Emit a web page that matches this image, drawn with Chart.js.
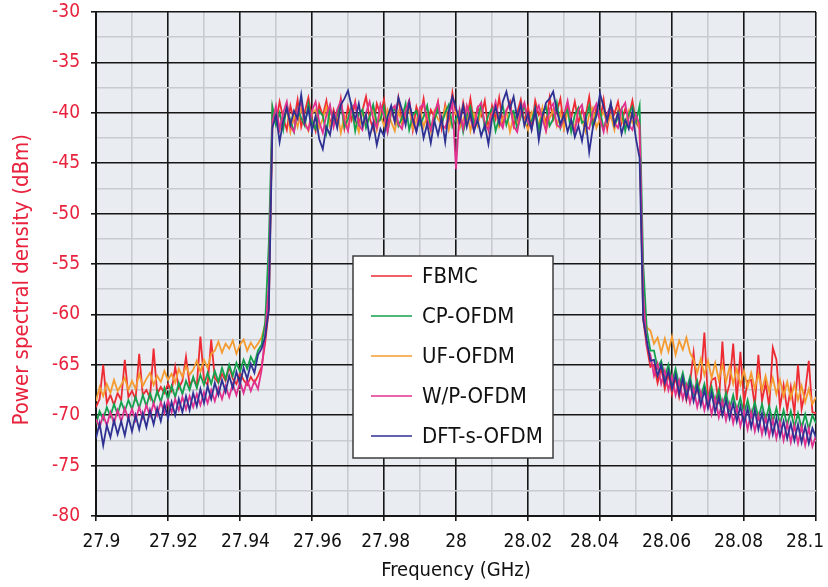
<!DOCTYPE html>
<html>
<head>
<meta charset="utf-8">
<script src="https://cdn.jsdelivr.net/npm/chart.js@4/dist/chart.umd.min.js"></script>
<style>
  html, body { margin: 0; padding: 0; background: #fff; }
  canvas { display: block; }
</style>
</head>
<body>
<canvas id="psd" width="828" height="587"></canvas>
<script>
// frequency grid (GHz), one sample per MHz
const freq = Array.from({ length: 201 }, (_, i) => +(27.9 + i * 0.001).toFixed(3));

const seriesNames = ['FBMC', 'CP-OFDM', 'UF-OFDM', 'W/P-OFDM', 'DFT-s-OFDM'];

// dBm values, index 0..48 lower skirt, 49..151 in-band, 152..200 upper skirt
const fbmc = [
  -69.2, -68.4, -65.0, -68.8, -68.0, -69.0, -67.8, -68.5, -64.5, -68.2,
  -67.6, -68.4, -63.9, -68.0, -67.5, -68.3, -63.4, -67.9, -67.2, -67.8,
  -66.9, -67.6, -65.2, -67.3, -66.6, -64.2, -67.0, -66.4, -67.1, -62.2,
  -66.5, -67.0, -62.5, -66.3, -66.8, -65.9, -66.6, -65.2, -66.4, -66.9,
  -65.8, -66.5, -67.0, -66.2, -66.8, -66.1, -65.2, -62.8, -59.5,
  -39.6, -41.0, -38.9, -40.5, -41.7, -39.3, -40.8, -38.7, -41.4, -39.9,
  -38.5, -40.6, -41.8, -39.2, -40.3, -38.8, -41.2, -39.7, -40.9, -38.6,
  -41.5, -39.4, -40.7, -38.9, -41.1, -39.8, -38.4, -40.5, -41.6, -39.1,
  -40.2, -38.7, -41.3, -39.6, -40.9, -38.5, -41.0, -39.9, -38.8, -41.7,
  -39.4, -40.6, -38.6, -41.2, -39.7, -40.4, -38.9, -41.5, -39.2, -40.8,
  -38.0, -40.1, -41.4, -39.0, -40.7, -38.6, -41.1, -39.5, -40.3, -38.8,
  -41.6, -39.3, -40.6, -38.5, -41.0, -39.8, -38.9, -41.3, -40.0, -38.7,
  -40.9, -39.4, -41.5, -38.8, -40.2, -39.6, -41.1, -38.5, -40.7, -39.9,
  -38.6, -41.4, -39.2, -40.5, -38.9, -41.0, -39.7, -40.3, -38.4, -41.2,
  -39.5, -40.8, -38.7, -41.6, -39.3, -40.1, -38.9, -41.0, -39.6, -40.4,
  -38.8, -40.9, -41.6,
  -60.5, -63.2, -65.2, -65.0, -66.8, -65.3, -67.4, -65.9, -67.9, -66.2,
  -68.2, -66.5, -68.5, -66.8, -63.8, -67.6, -66.4, -61.8, -68.6, -66.5,
  -66.3, -68.9, -62.7, -68.2, -66.9, -62.9, -68.5, -63.7, -68.8, -66.6,
  -66.5, -69.1, -64.0, -68.6, -66.8, -69.2, -63.3, -64.5, -69.2, -67.0,
  -69.5, -67.2, -69.8, -65.0, -69.4, -67.6, -64.6, -69.7, -69.8
];

const cpOfdm = [
  -70.9, -69.6, -70.4, -69.2, -70.1, -68.9, -69.9, -68.7, -69.6, -68.5,
  -69.4, -68.2, -69.3, -68.0, -69.1, -67.8, -68.9, -67.6, -68.7, -67.3,
  -68.4, -67.1, -68.2, -66.8, -67.9, -66.6, -67.5, -66.2, -67.3, -66.0,
  -67.0, -65.8, -66.9, -65.6, -66.7, -65.3, -66.4, -65.0, -66.1, -64.8,
  -65.7, -64.5, -65.4, -64.2, -64.9, -63.6, -63.0, -60.8, -53.0,
  -39.4, -41.2, -40.0, -41.7, -39.2, -40.8, -41.9, -39.6, -40.5, -41.3,
  -39.1, -40.9, -41.6, -39.8, -40.3, -42.0, -39.5, -41.1, -40.2, -39.0,
  -41.4, -40.6, -39.3, -41.8, -40.1, -39.7, -41.5, -40.4, -39.2, -41.0,
  -40.7, -39.4, -41.9, -40.0, -39.6, -41.3, -40.5, -39.1, -41.7, -40.2,
  -39.8, -41.2, -40.4, -39.3, -41.6, -40.8, -39.5, -41.1, -40.0, -39.2,
  -41.4, -40.6, -39.7, -41.9, -40.3, -39.4, -41.0, -40.7, -39.1, -41.5,
  -40.2, -39.6, -41.8, -40.5, -39.3, -41.2, -40.0, -39.8, -41.6, -40.4,
  -39.2, -41.1, -40.8, -39.5, -41.7, -40.1, -39.4, -41.3, -40.6, -39.0,
  -41.5, -40.3, -39.7, -41.9, -40.2, -39.5, -41.0, -40.7, -39.3, -41.4,
  -40.0, -39.8, -41.6, -40.4, -39.1, -41.2, -40.5, -39.6, -41.8, -40.1,
  -39.4, -40.9, -39.3,
  -55.0, -61.6, -63.6, -63.6, -65.3, -64.6, -66.2, -65.0, -66.8, -65.4,
  -67.1, -65.8, -67.5, -66.2, -67.8, -66.6, -68.2, -66.9, -68.5, -67.2,
  -68.8, -67.5, -69.1, -67.8, -69.4, -68.0, -69.6, -68.3, -69.9, -68.5,
  -70.1, -68.7, -70.3, -68.9, -70.5, -69.1, -70.7, -69.3, -70.9, -69.5,
  -71.0, -69.6, -71.2, -69.8, -71.3, -69.9, -71.4, -70.0, -70.8
];

const ufOfdm = [
  -68.6, -67.2, -68.1, -66.9, -67.8, -66.5, -67.6, -67.0, -66.3, -67.5,
  -66.6, -67.4, -65.9, -67.1, -66.4, -65.8, -67.0, -66.1, -66.7, -65.6,
  -66.5, -65.9, -66.8, -65.4, -66.2, -65.1, -66.0, -65.5, -64.6, -65.7,
  -64.5, -65.3, -63.9, -63.6, -62.7, -63.8, -62.9, -63.4, -62.6, -63.9,
  -63.0, -62.5, -63.6, -62.8, -63.4, -62.9, -62.3, -61.0, -58.5,
  -41.3, -39.8, -41.7, -40.4, -39.6, -41.9, -40.2, -41.4, -39.5, -40.9,
  -41.8, -40.0, -39.7, -41.5, -40.6, -39.4, -41.2, -40.8, -39.9, -42.0,
  -40.3, -41.6, -39.6, -40.7, -41.9, -39.8, -41.1, -40.4, -39.5, -41.7,
  -40.1, -41.3, -39.7, -40.9, -41.8, -39.9, -41.0, -40.5, -39.4, -41.6,
  -40.8, -39.6, -41.4, -40.2, -41.9, -39.8, -40.6, -41.2, -39.5, -41.7,
  -40.3, -39.9, -41.5, -40.7, -39.6, -41.8, -40.1, -41.3, -39.7, -40.9,
  -41.6, -40.0, -39.5, -41.4, -40.6, -39.8, -41.9, -40.3, -41.1, -39.6,
  -40.8, -41.7, -39.9, -40.4, -41.2, -39.5, -41.8, -40.5, -39.7, -41.3,
  -40.0, -41.6, -39.8, -40.9, -41.4, -39.6, -40.7, -41.9, -40.2, -39.5,
  -41.5, -40.6, -39.9, -41.1, -40.3, -41.7, -39.7, -40.8, -41.2, -39.8,
  -41.0, -40.4, -41.6,
  -59.8, -61.3, -61.6, -62.9, -62.3, -63.8, -62.4, -63.7, -62.2, -64.0,
  -62.6, -63.5, -62.3, -63.8, -64.5, -65.8, -64.4, -66.0, -64.6, -66.3,
  -64.8, -66.5, -65.0, -66.7, -65.2, -66.9, -65.4, -67.0, -65.6, -67.2,
  -65.8, -67.4, -65.9, -67.5, -66.1, -67.7, -66.3, -67.9, -66.5, -68.1,
  -66.7, -68.3, -66.9, -68.5, -67.1, -68.7, -67.4, -68.9, -68.2
];

const wpOfdm = [
  -70.4, -71.2, -70.0, -71.0, -69.7, -70.8, -69.5, -70.6, -69.3, -70.4,
  -69.4, -70.5, -69.2, -70.3, -69.0, -70.1, -68.8, -70.0, -68.7, -69.8,
  -68.5, -69.7, -68.4, -69.5, -68.2, -69.4, -68.1, -69.2, -67.9, -69.0,
  -67.7, -68.8, -67.5, -68.6, -67.3, -68.4, -67.1, -68.2, -66.9, -68.0,
  -66.7, -67.8, -66.5, -67.6, -66.6, -67.4, -65.5, -62.0, -57.0,
  -40.9, -39.3, -41.6, -40.0, -38.9, -41.3, -41.9, -39.6, -39.0, -41.1,
  -41.7, -39.8, -38.9, -40.9, -42.0, -40.2, -39.2, -41.4, -39.7, -38.8,
  -40.8, -41.8, -39.5, -39.1, -41.2, -41.7, -40.0, -38.9, -40.6, -41.5,
  -39.2, -40.3, -41.9, -39.7, -39.3, -41.1, -41.6, -39.8, -38.8, -40.9,
  -41.8, -39.5, -39.1, -40.7, -41.7, -40.0, -39.0, -41.2, -41.5, -40.3,
  -39.0, -45.6, -39.8, -41.6, -39.3, -40.6, -41.8, -39.5, -39.0, -41.1,
  -41.7, -40.2, -38.9, -40.8, -41.5, -39.7, -39.2, -41.3, -41.9, -39.9,
  -39.0, -40.9, -41.6, -40.1, -39.3, -40.6, -41.8, -39.6, -39.1, -41.2,
  -41.5, -40.2, -38.8, -40.8, -41.9, -39.7, -39.2, -41.3, -41.6, -39.9,
  -39.1, -40.6, -41.9, -40.1, -39.3, -41.0, -41.5, -39.6, -39.0, -41.2,
  -41.7, -40.2, -41.2,
  -58.0, -63.2, -64.0, -66.1, -64.9, -66.9, -65.6, -67.5, -66.1, -68.0,
  -66.6, -68.4, -67.0, -68.8, -67.3, -69.2, -67.7, -69.5, -68.0, -69.9,
  -68.3, -70.2, -68.6, -70.5, -68.9, -70.8, -69.2, -71.1, -69.5, -71.4,
  -69.7, -71.6, -70.0, -71.9, -70.2, -72.1, -70.4, -72.3, -70.6, -72.5,
  -70.8, -72.7, -71.0, -72.8, -71.1, -73.0, -71.3, -73.1, -72.0
];

const dftsOfdm = [
  -72.3, -70.8, -73.0, -71.0, -72.2, -70.5, -71.9, -70.6, -72.0, -70.2,
  -71.6, -70.0, -71.4, -69.8, -71.2, -69.5, -70.9, -69.3, -70.6, -68.9,
  -70.3, -68.7, -70.0, -68.4, -69.7, -68.1, -69.5, -67.8, -69.1, -67.4,
  -68.8, -67.1, -68.4, -66.8, -68.0, -66.5, -67.7, -66.1, -67.3, -65.7,
  -66.9, -65.3, -66.4, -64.9, -65.8, -64.0, -63.4, -62.2, -59.5,
  -41.5, -40.2, -42.9, -40.8, -39.5, -41.2, -39.8, -40.6, -38.2, -40.9,
  -39.6, -41.8, -40.3, -42.6, -43.6, -41.4, -42.2, -40.1, -41.5, -39.2,
  -38.6, -37.8, -39.4, -40.7, -39.1, -41.3, -40.2, -42.4, -41.0, -43.2,
  -41.6, -42.3, -40.4, -39.3, -40.9, -38.5, -39.7, -41.2, -39.0, -40.6,
  -41.9, -40.3, -42.5, -41.1, -43.0, -40.8, -42.2, -40.5, -42.9, -39.8,
  -38.4, -39.5, -40.9, -39.3, -41.4, -40.0, -41.8, -40.7, -42.3, -41.2,
  -43.1, -40.6, -39.4, -41.0, -38.9, -37.9, -39.6, -38.4, -40.5, -39.2,
  -41.3, -40.1, -41.7, -39.7, -42.7, -40.4, -39.0, -38.6, -37.9, -39.8,
  -41.1, -40.2, -41.9, -40.7, -42.4, -41.3, -42.8, -40.6, -43.9, -41.5,
  -40.3, -38.1, -39.4, -40.8, -39.0, -41.2, -40.0, -42.1, -40.7, -41.6,
  -39.9, -42.6, -44.5,
  -60.5, -62.6, -64.6, -64.5, -66.1, -65.0, -66.8, -65.6, -67.4, -66.0,
  -67.9, -66.3, -68.3, -66.7, -68.6, -67.1, -69.0, -67.5, -69.3, -67.8,
  -69.7, -68.2, -70.0, -68.5, -70.3, -68.8, -70.6, -69.1, -70.9, -69.3,
  -71.2, -69.5, -71.4, -69.8, -71.7, -70.0, -71.9, -70.3, -72.1, -70.6,
  -72.3, -70.8, -72.5, -70.9, -72.7, -71.1, -72.8, -71.3, -72.2
];

const seriesValues = [fbmc, cpOfdm, ufOfdm, wpOfdm, dftsOfdm];
const seriesColors = ['#ee2a33', '#14a04c', '#f59b30', '#e2308e', '#2e3192'];
const seriesOrder = [5, 3, 4, 2, 1];

const xTickValues = [27.9, 27.91, 27.92, 27.93, 27.94, 27.95, 27.96, 27.97, 27.98, 27.99, 28,
  28.01, 28.02, 28.03, 28.04, 28.05, 28.06, 28.07, 28.08, 28.09, 28.1];
const xTickLabels = ['27.9', '', '27.92', '', '27.94', '', '27.96', '', '27.98', '', '28',
  '', '28.02', '', '28.04', '', '28.06', '', '28.08', '', '28.1'];
const yTickValues = [-80, -77.5, -75, -72.5, -70, -67.5, -65, -62.5, -60, -57.5, -55,
  -52.5, -50, -47.5, -45, -42.5, -40, -37.5, -35, -32.5, -30];
const yTickLabels = ['-80', '', '-75', '', '-70', '', '-65', '', '-60', '', '-55',
  '', '-50', '', '-45', '', '-40', '', '-35', '', '-30'];

const FONT = "'DejaVu Sans Condensed', 'Liberation Sans Narrow', sans-serif";
const RED = '#e8223c';
const MAJOR = '#161616';
const MINOR = '#c8cbcf';
const FIG = '\u2007';

// the original labels sit a little inside their ticks toward the middle
function xLabel(index) {
    const t = xTickLabels[index];
    if (!t) return '';
    if (index === 20) return t + FIG + FIG;
    if (index < 8) return FIG + t;
    if (index === 8) return '\u2009' + t;
    if (index > 12) return t + FIG;
    return t;
}

const plotBackground = {
    id: 'plotBackground',
    beforeDraw(chart) {
        const { ctx, chartArea: a } = chart;
        ctx.save();
        ctx.fillStyle = '#e9ecf1';
        ctx.fillRect(a.left, a.top, a.right - a.left, a.bottom - a.top);
        ctx.restore();
    }
};

// legend box drawn inside the plot, over the traces
const legendBox = {
    id: 'legendBox',
    afterDraw(chart) {
        const { ctx, chartArea: a } = chart;
        const x = a.left + 257, y = a.top + 244, w = 200, h = 202;
        ctx.save();
        ctx.fillStyle = '#ffffff';
        ctx.fillRect(x, y, w, h);
        ctx.strokeStyle = '#3c3c3c';
        ctx.lineWidth = 1.5;
        ctx.strokeRect(x, y, w, h);
        ctx.font = "22px " + FONT;
        ctx.textBaseline = 'middle';
        chart.data.datasets.forEach((ds, i) => {
            const ly = y + 20 + i * 40;
            ctx.strokeStyle = ds.borderColor;
            ctx.lineWidth = 1.5;
            ctx.beginPath();
            ctx.moveTo(x + 18, ly);
            ctx.lineTo(x + 59, ly);
            ctx.stroke();
            ctx.fillStyle = '#111';
            ctx.fillText(ds.label, x + 69, ly + 1);
        });
        ctx.restore();
    }
};

const isMajor = (i) => i % 2 === 0;

new Chart(document.getElementById('psd'), {
    type: 'line',
    data: {
        datasets: seriesNames.map((name, k) => ({
            label: name,
            data: freq.map((f, i) => ({ x: f, y: seriesValues[k][i] })),
            borderColor: seriesColors[k],
            borderWidth: 1.8,
            pointRadius: 0,
            tension: 0,
            fill: false,
            order: seriesOrder[k]
        }))
    },
    options: {
        responsive: false,
        animation: false,
        layout: { padding: { top: 12, right: 12, left: 0, bottom: 0 } },
        plugins: {
            legend: { display: false },
            tooltip: { enabled: false }
        },
        scales: {
            x: {
                type: 'linear',
                min: 27.9,
                max: 28.1,
                afterBuildTicks: (scale) => { scale.ticks = xTickValues.map(v => ({ value: v })); },
                afterFit: (scale) => { scale.height = 71; scale.paddingLeft = 0; scale.paddingRight = 0; },
                ticks: {
                    autoSkip: false,
                    maxRotation: 0,
                    padding: 10,
                    color: '#111',
                    font: { family: FONT, size: 19 },
                    callback: (value, index) => xLabel(index)
                },
                grid: {
                    color: (c) => isMajor(c.index) ? MAJOR : MINOR,
                    tickColor: (c) => isMajor(c.index) ? MAJOR : 'rgba(0,0,0,0)',
                    lineWidth: 1.6,
                    tickLength: 5
                },
                border: { color: MAJOR, width: 2 },
                title: {
                    display: true,
                    text: 'Frequency (GHz)',
                    color: '#111',
                    font: { family: FONT, size: 20 },
                    padding: { top: 0, bottom: 4 }
                }
            },
            y: {
                type: 'linear',
                min: -80,
                max: -30,
                afterBuildTicks: (scale) => { scale.ticks = yTickValues.map(v => ({ value: v })); },
                afterFit: (scale) => { scale.width = 96; scale.paddingTop = 0; scale.paddingBottom = 0; },
                ticks: {
                    autoSkip: false,
                    padding: 11,
                    color: RED,
                    font: { family: FONT, size: 19 },
                    callback: (value, index) => yTickLabels[index]
                },
                grid: {
                    color: (c) => isMajor(c.index) ? MAJOR : MINOR,
                    tickColor: (c) => isMajor(c.index) ? MAJOR : 'rgba(0,0,0,0)',
                    lineWidth: 1.6,
                    tickLength: 5
                },
                border: { color: MAJOR, width: 2 },
                title: {
                    display: true,
                    // trailing spaces push the rotated title down a little, as in the original
                    text: 'Power spectral density (dBm)     ',
                    color: RED,
                    font: { family: FONT, size: 22 },
                    padding: { top: 9, bottom: 0 }
                }
            }
        }
    },
    plugins: [plotBackground, legendBox]
});
</script>
</body>
</html>
